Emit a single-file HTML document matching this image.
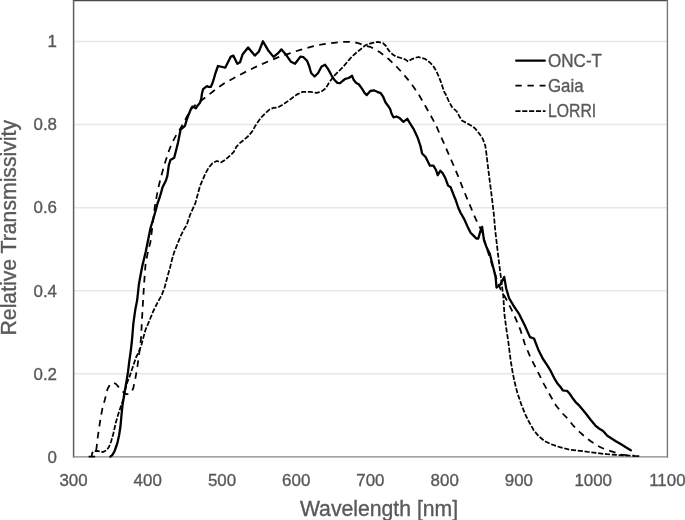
<!DOCTYPE html>
<html><head><meta charset="utf-8"><style>
html,body{margin:0;padding:0;background:#fff;}
svg{display:block;}
text{font-family:"Liberation Sans",Arial,sans-serif;fill:#595959;stroke:#595959;stroke-width:0.35px;}
</style></head><body>
<svg width="685" height="520" viewBox="0 0 685 520">
<rect width="685" height="520" fill="#fff"/>
<g stroke="#e7e7e7" stroke-width="1.5"><line x1="73.5" x2="667.4" y1="373.78" y2="373.78"/><line x1="73.5" x2="667.4" y1="290.71" y2="290.71"/><line x1="73.5" x2="667.4" y1="207.64" y2="207.64"/><line x1="73.5" x2="667.4" y1="124.57" y2="124.57"/><line x1="73.5" x2="667.4" y1="41.50" y2="41.50"/></g>
<g stroke-linecap="square"><line x1="73.6" y1="0.6" x2="667.4" y2="0.6" stroke="#484848" stroke-width="1.4"/><line x1="73.6" y1="0.6" x2="73.6" y2="456.85" stroke="#5e5e5e" stroke-width="1.5"/><line x1="667.4" y1="0.6" x2="667.4" y2="456.85" stroke="#777" stroke-width="1.4"/><line x1="73.6" y1="456.85" x2="667.4" y2="456.85" stroke="#858585" stroke-width="1.4"/></g>
<g font-size="16.9"><text x="57" y="462.7" text-anchor="end">0</text><text x="57" y="379.6" text-anchor="end">0.2</text><text x="57" y="296.5" text-anchor="end">0.4</text><text x="57" y="213.4" text-anchor="end">0.6</text><text x="57" y="130.4" text-anchor="end">0.8</text><text x="57" y="47.3" text-anchor="end">1</text><text x="73.5" y="486" text-anchor="middle">300</text><text x="147.7" y="486" text-anchor="middle">400</text><text x="222.0" y="486" text-anchor="middle">500</text><text x="296.2" y="486" text-anchor="middle">600</text><text x="370.4" y="486" text-anchor="middle">700</text><text x="444.7" y="486" text-anchor="middle">800</text><text x="518.9" y="486" text-anchor="middle">900</text><text x="593.2" y="486" text-anchor="middle">1000</text><text x="667.4" y="486" text-anchor="middle">1100</text></g>
<text x="379" y="515.5" font-size="21.2" text-anchor="middle">Wavelength [nm]</text>
<text transform="translate(15.9,227.7) rotate(-90)" font-size="21.2" text-anchor="middle">Relative Transmissivity</text>
<g fill="none" stroke="#000" stroke-linejoin="round">
<polyline points="91.5,456.6 92.3,452.8 94.0,451.3 97.0,450.9 100.0,451.3 103.0,452.1 106.5,450.2 108.8,447.3 111.1,441.5 113.4,433.4 115.7,423.1 118.0,415.0 120.3,408.1 122.6,401.2 124.6,392.3 127.0,383.0 129.5,376.8 131.8,370.0 133.8,364.0 136.2,357.0 139.2,351.2 141.5,344.5 145.4,330.0 149.2,321.2 153.1,311.5 157.9,301.9 161.7,295.2 164.6,287.5 167.7,275.8 170.0,267.7 172.3,258.4 174.0,252.7 176.3,246.9 178.6,241.1 181.0,235.4 183.8,229.6 186.7,225.0 190.0,215.0 195.4,203.0 200.0,186.0 205.6,173.1 208.8,167.5 212.5,163.1 216.9,161.0 221.3,162.3 225.0,160.0 230.0,155.6 233.8,151.9 236.3,146.9 239.4,143.5 243.8,140.0 248.8,135.6 252.5,131.0 255.0,126.3 257.5,122.5 261.3,117.3 265.0,113.6 269.9,109.2 273.5,107.9 278.0,107.4 283.9,103.9 289.7,99.9 296.7,94.6 302.6,91.9 310.7,91.9 316.6,92.8 321.2,91.7 325.9,88.2 328.7,83.3 333.5,76.5 338.3,71.7 343.1,66.9 347.9,61.2 351.7,56.8 356.5,52.5 361.3,48.7 365.5,45.2 371.4,43.1 377.8,41.9 383.0,43.1 386.0,46.0 388.9,50.7 392.4,54.2 395.9,56.5 401.0,58.0 405.2,59.4 408.1,61.5 412.5,58.8 418.1,57.0 425.1,58.9 429.7,62.4 433.2,65.9 436.0,70.5 438.1,75.0 441.2,82.7 444.2,91.9 445.4,93.7 448.9,101.5 452.3,107.5 456.7,111.3 459.3,116.2 461.9,120.5 466.2,122.8 470.5,125.2 474.9,128.3 479.2,133.5 482.7,138.7 485.3,145.7 486.5,154.3 487.5,163.0 489.8,181.5 491.9,197.7 493.8,213.9 495.2,230.0 497.5,250.0 499.4,265.4 501.3,280.8 503.3,296.2 504.4,314.2 506.5,330.0 508.1,340.0 510.6,360.0 512.5,371.5 514.4,381.2 517.3,392.7 521.2,404.2 525.0,413.8 528.8,421.5 533.7,430.2 538.5,436.0 544.2,440.8 551.0,444.2 557.7,446.5 569.2,449.6 580.0,450.8 588.5,452.0 597.7,453.1 606.9,454.2 616.2,454.9 625.4,455.4 634.6,455.7" stroke-width="1.75" stroke-dasharray="5.1 1.75"/>
<polyline points="88.6,456.6 94.3,456.6 95.8,452.0 96.6,447.5 97.3,440.4 99.0,428.8 100.7,417.3 102.5,408.1 104.8,400.0 107.5,389.0 110.0,384.5 113.0,382.5 116.0,384.0 119.0,387.5 122.5,391.5 126.0,394.0 129.0,394.0 131.3,392.0 133.2,388.5 135.6,377.2 137.6,365.2 139.0,355.0 141.0,338.5 142.0,319.2 143.0,301.9 144.0,285.0 145.6,263.5 148.3,250.0 150.4,242.3 153.0,222.0 155.0,205.4 158.1,188.5 161.2,176.2 164.2,165.4 168.1,153.1 171.9,143.1 176.5,134.6 178.5,131.9 184.2,121.9 190.4,109.6 195.0,105.3 199.6,101.8 207.9,95.4 217.3,88.1 224.4,83.2 227.3,81.6 237.5,76.1 247.4,70.9 257.9,65.9 268.2,61.5 279.3,56.8 289.8,53.3 300.3,49.8 311.7,46.7 322.2,44.3 333.9,42.8 345.5,41.8 350.5,42.0 355.0,42.3 359.7,43.7 366.7,46.0 370.2,46.8 375.4,49.5 379.5,51.9 385.2,56.3 389.5,59.8 394.2,64.2 398.8,69.0 403.5,74.2 411.2,83.5 418.1,93.5 423.5,102.7 429.6,113.5 435.8,124.9 440.0,134.5 444.8,145.1 449.4,156.0 454.3,167.0 458.6,177.4 463.3,189.5 469.0,203.1 475.8,219.2 481.2,230.0 488.0,252.0 495.0,274.0 500.4,289.0 507.1,300.8 513.8,314.2 520.6,330.4 524.8,344.0 530.5,357.5 536.9,370.0 543.8,383.8 550.8,396.5 555.8,405.2 560.0,410.5 563.1,414.0 567.7,418.7 573.8,426.2 580.0,432.3 585.0,436.8 590.8,441.3 596.0,444.8 601.5,447.7 606.5,449.8 612.3,451.6 617.0,453.2 621.5,454.5 627.7,455.5 633.0,455.9 639.2,456.1" stroke-width="1.75" stroke-dasharray="6.6 5.5"/>
<polyline points="110.3,456.6 112.0,455.4 113.3,453.5 114.5,451.2 115.5,448.5 116.6,445.5 117.6,442.1 119.0,435.7 120.4,427.0 121.5,415.0 122.6,404.6 123.9,397.0 124.8,391.0 126.5,381.5 128.0,371.9 129.4,360.4 130.9,349.8 132.0,340.0 133.4,323.1 135.3,309.6 137.2,300.0 138.8,285.0 140.2,277.0 142.3,266.0 145.8,251.5 150.4,228.5 153.8,217.0 155.8,210.0 157.5,203.5 159.6,197.7 162.7,186.9 165.8,180.8 167.3,176.2 168.8,165.4 170.4,160.0 174.2,157.7 175.8,151.5 178.1,142.3 179.6,134.5 180.6,129.5 185.0,125.8 186.5,120.4 188.8,114.2 190.8,109.2 192.2,106.7 193.5,107.1 195.8,108.3 197.7,105.4 200.0,102.7 201.2,99.2 201.9,93.8 203.1,89.2 205.0,87.7 206.9,86.2 208.5,86.8 210.8,86.9 211.9,84.6 213.5,80.0 215.5,73.0 218.0,66.0 225.2,67.7 230.6,56.9 233.3,55.6 237.3,63.7 240.0,62.3 242.7,54.2 248.1,47.5 254.8,55.6 258.9,51.5 262.9,41.3 268.1,50.2 273.5,56.9 277.5,53.7 281.5,49.4 285.6,54.2 291.0,61.8 295.0,63.7 300.4,56.6 303.5,57.2 307.0,60.7 309.3,66.5 311.1,73.0 314.6,76.5 318.1,73.0 321.6,66.5 325.1,64.8 328.0,68.9 331.5,75.3 334.5,80.0 337.4,82.9 340.0,83.2 342.5,81.0 345.2,78.8 348.7,78.0 352.1,75.8 353.8,80.1 356.0,82.7 359.0,84.5 362.1,88.8 364.7,93.1 366.8,95.1 370.3,91.0 373.7,90.3 377.2,91.8 380.7,93.1 383.3,97.0 385.4,102.2 388.0,105.7 390.2,109.1 391.5,113.5 393.5,117.3 396.5,116.5 399.6,118.1 403.5,121.9 407.3,118.8 409.6,122.7 413.5,128.8 414.8,131.5 417.8,138.0 420.4,145.8 422.1,153.5 425.6,157.0 428.2,162.2 429.9,165.7 433.4,165.7 436.0,170.0 437.7,175.2 440.3,170.8 442.9,173.4 445.5,178.6 448.1,185.6 450.7,187.3 453.3,194.2 455.8,200.3 458.4,208.0 460.4,212.5 463.8,218.3 467.7,226.9 470.6,232.7 473.5,235.6 476.3,238.5 478.3,238.5 480.2,231.7 482.1,226.9 484.0,240.4 486.9,248.1 489.8,253.8 491.7,261.5 493.7,269.2 495.6,276.9 496.5,287.5 500.4,284.6 504.2,276.9 506.2,288.5 509.0,298.0 513.8,306.2 519.2,314.2 524.6,325.0 530.0,337.1 534.0,338.5 538.1,349.2 542.7,358.5 547.3,365.4 550.8,371.2 554.2,378.1 557.7,383.8 560.5,387.0 562.8,390.3 564.6,390.7 567.2,390.9 569.5,393.5 572.3,397.7 575.4,401.8 578.5,404.8 582.3,409.3 586.2,414.0 590.8,420.0 595.4,425.6 599.0,428.5 603.1,431.0 607.3,435.8 615.5,441.0 621.5,444.6 626.2,447.5 630.8,450.3" stroke-width="2.3" stroke-linecap="round"/>
<line x1="516.2" x2="544.8" y1="60.65" y2="60.65" stroke-width="2.3" stroke-linecap="round"/>
<line x1="515.4" x2="545.5" y1="85.7" y2="85.7" stroke-width="1.75" stroke-dasharray="6.3 5.8"/>
<line x1="515.4" x2="545.5" y1="111.1" y2="111.1" stroke-width="1.75" stroke-dasharray="5.1 1.75"/>
</g>
<g font-size="18.2">
<text x="548" y="66.9" textLength="54" lengthAdjust="spacingAndGlyphs">ONC-T</text>
<text x="548" y="91.8" textLength="35.6" lengthAdjust="spacingAndGlyphs">Gaia</text>
<text x="548" y="116.7" textLength="48.2" lengthAdjust="spacingAndGlyphs">LORRI</text>
</g>
</svg>
</body></html>
